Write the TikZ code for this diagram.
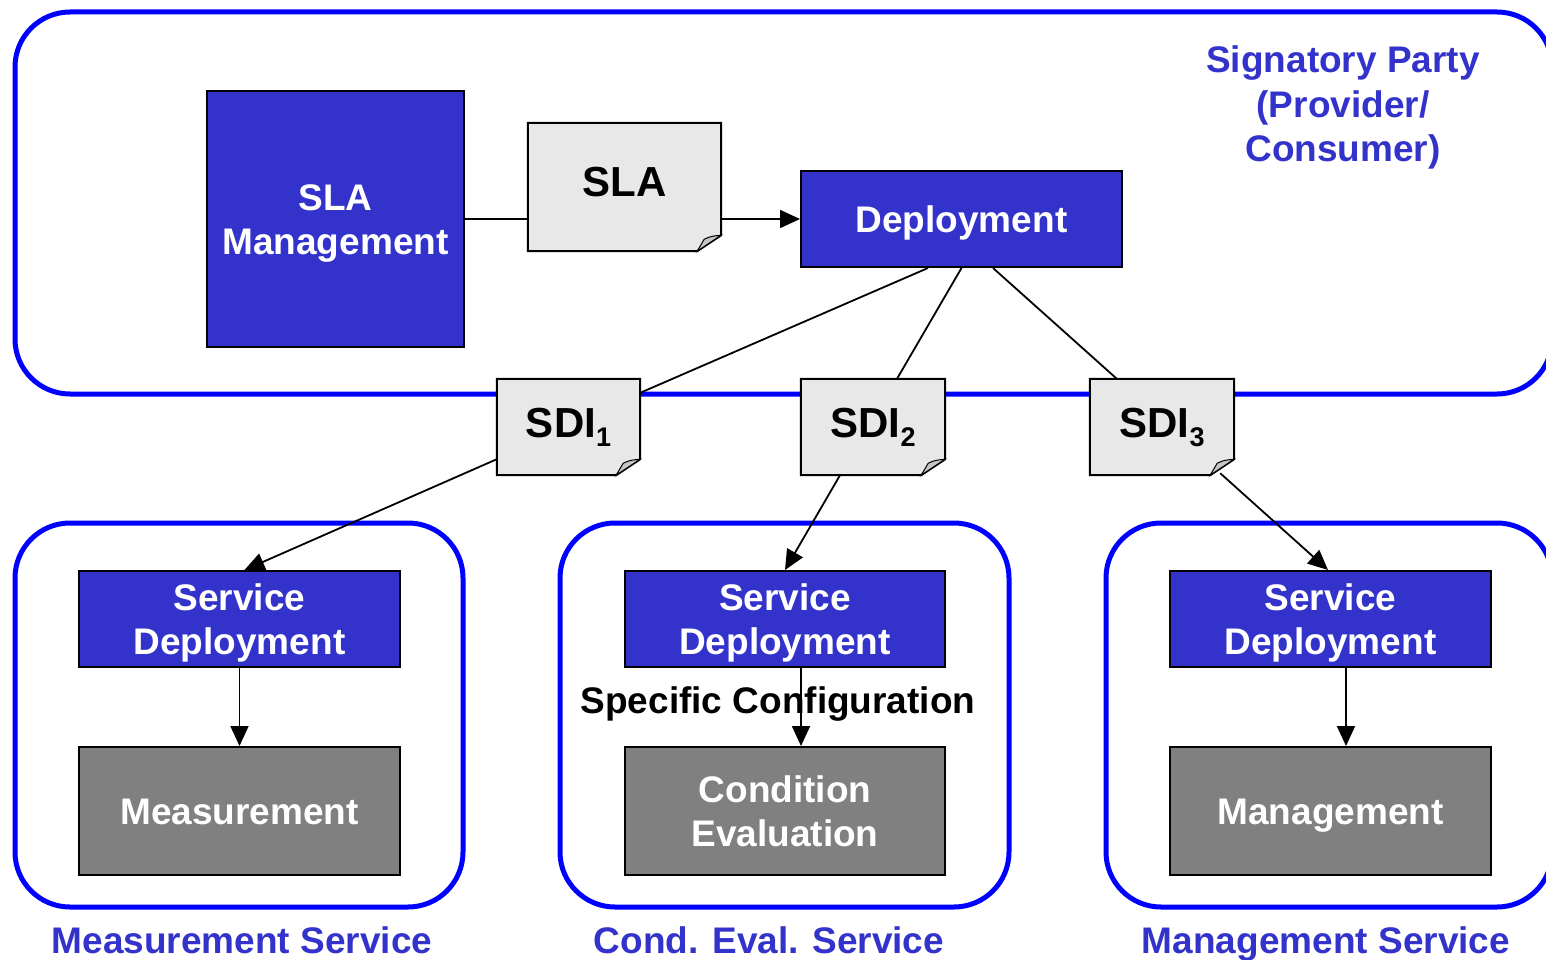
\documentclass[tikz,border=0pt]{standalone}
\usepackage{fontspec}
\setmainfont{Liberation Sans}
\usetikzlibrary{arrows.meta}
\definecolor{boxblue}{RGB}{51,51,204}
\definecolor{lineblue}{RGB}{0,0,255}
\definecolor{docgray}{RGB}{232,232,232}
\definecolor{foldgray}{RGB}{196,196,196}
\definecolor{evalgray}{RGB}{128,128,128}
\pgfdeclarelayer{background}
\pgfsetlayers{background,main}
\newcommand\bigtext{\bfseries\fontsize{37}{44}\selectfont}
\newcommand\doctext{\bfseries\fontsize{42}{46}\selectfont}
\newcommand\sdisub[1]{\raisebox{-0.22em}{\fontsize{27}{27}\selectfont #1}}
% page-like shape with a folded bottom-right corner, drawn behind a node
\newcommand\foldeddoc[1]{%
  \begin{pgfonlayer}{background}
    \draw[docline, fill=docgray] (#1.north west) -- (#1.north east)
      -- ([yshift=16pt]#1.south east) -- ([xshift=-24pt]#1.south east)
      -- (#1.south west) -- cycle;
    \draw[line width=1pt, fill=foldgray] ([xshift=-24pt]#1.south east)
      -- ([xshift=-17pt,yshift=12pt]#1.south east)
      .. controls ([xshift=-10pt,yshift=15pt]#1.south east) .. ([yshift=16pt]#1.south east) -- cycle;
  \end{pgfonlayer}}
\begin{document}
\begin{tikzpicture}[x=1pt,y=-1pt,
  oneline/.style={text height=26.5pt, text depth=0pt},
  twoline/.style={text height=70.5pt, text depth=0pt},
  bluebox/.style={draw=black, line width=2pt, fill=boxblue, text=white,
    font=\bigtext, align=center, inner sep=0pt},
  greybox/.style={draw=black, line width=2pt, fill=evalgray, text=white,
    font=\bigtext, align=center, inner sep=0pt},
  docbox/.style={inner sep=0pt, font=\doctext, align=center,
    text height=30pt, text depth=0pt},
  docline/.style={draw=black, line width=2pt},
  container/.style={draw=lineblue, line width=5pt, rounded corners=55pt},
  caption/.style={text=boxblue, font=\bigtext, align=center, oneline},
  link/.style={draw=black, line width=1.8pt},
  arrow/.style={link, -{Triangle[length=20pt,width=18pt]}}]
\clip (0,0) rectangle (1546,960);
\begin{pgfonlayer}{background}
  \fill[white] (0,0) rectangle (1546,960);
  % containers
  \draw[container] (15,12) rectangle (1552,394);
  \draw[container] (15,523) rectangle (463,907);
  \draw[container] (560,523) rectangle (1009,907);
  \draw[container] (1106,523) rectangle (1552,907);
\end{pgfonlayer}

% signatory party
\node[bluebox, twoline, minimum width=257pt, minimum height=256pt] (slamgmt) at (335.5,219) {SLA\\Management};
\node[docbox, minimum width=193pt, minimum height=128pt] (sla) at (624.5,187) {\raisebox{5.5pt}{SLA}};
\foldeddoc{sla}
\node[bluebox, oneline, minimum width=321pt, minimum height=96pt] (deploy) at (961.5,219) {Deployment};
\node[text=boxblue, align=center, font=\bfseries\fontsize{37}{44.5}\selectfont,
  text height=115.5pt, text depth=0pt] (party) at (1343,104) {Signatory Party\\(Provider/\\Consumer)};

% service deployment instructions
\node[docbox, minimum width=143pt, minimum height=96pt] (sdi1) at (568.5,427) {\raisebox{4.5pt}{SDI\sdisub{1}}};
\node[docbox, minimum width=144pt, minimum height=96pt] (sdi2) at (873,427) {\raisebox{4.5pt}{SDI\sdisub{2}}};
\node[docbox, minimum width=144pt, minimum height=96pt] (sdi3) at (1162,427) {\raisebox{4.5pt}{SDI\sdisub{3}}};
\foldeddoc{sdi1}
\foldeddoc{sdi2}
\foldeddoc{sdi3}

% services
\node[bluebox, twoline, minimum width=321pt, minimum height=96pt] (sd1) at (239.5,619) {Service\\Deployment};
\node[bluebox, twoline, minimum width=320pt, minimum height=96pt] (sd2) at (785,619) {Service\\Deployment};
\node[bluebox, twoline, minimum width=321pt, minimum height=96pt] (sd3) at (1330.5,619) {Service\\Deployment};
\node[greybox, oneline, minimum width=321pt, minimum height=128pt] (meas) at (239.5,811) {Measurement};
\node[greybox, twoline, minimum width=320pt, minimum height=128pt] (eval) at (785,811) {Condition\\Evaluation};
\node[greybox, oneline, minimum width=321pt, minimum height=128pt] (mgmt) at (1330.5,811) {Management};

% connectors
\draw[link] (slamgmt.east) -- (sla.west |- slamgmt.east);
\draw[arrow] (sla.east |- deploy.west) -- (deploy.west);
\draw[link] ([xshift=-33.5pt]deploy.south) -- ([yshift=-14pt]sdi1.north east);
\draw[link] (deploy.south) -- ([xshift=24pt]sdi2.north);
\draw[link] ([xshift=31.5pt]deploy.south) -- ([xshift=27pt]sdi3.north west);
\draw[arrow] ([yshift=16pt]sdi1.south west) -- ([xshift=5pt]sd1.north);
\draw[arrow] ([xshift=-33pt]sdi2.south) -- (sd2.north);
\draw[arrow] ([xshift=-14pt,yshift=2pt]sdi3.south east) -- ([xshift=-2.5pt]sd3.north);
\draw[arrow] (sd1.south) -- (meas.north);
\draw[arrow] ([xshift=16pt]sd2.south) -- ([xshift=16pt]eval.north);
\draw[arrow] ([xshift=15.5pt]sd3.south) -- ([xshift=15.5pt]mgmt.north);

\node[font=\bigtext, oneline] (config) at (778,700) {Specific Configuration};

% service names
\node[caption] (measname) at (242,940) {Measurement Service};
\node[caption] (evalname) at (769,940) {Cond. Eval. Service};
\node[caption] (mgmtname) at (1326,940) {Management Service};
\end{tikzpicture}
\end{document}
